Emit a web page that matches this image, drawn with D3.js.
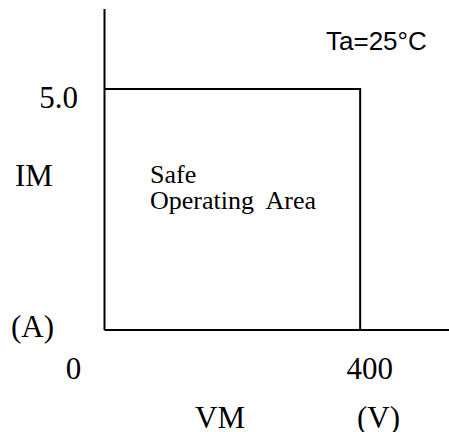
<!DOCTYPE html>
<html>
<head>
<meta charset="utf-8">
<script src="https://cdn.jsdelivr.net/npm/d3@7"></script>
<style>
    html, body { margin: 0; padding: 0; background: #fff; }
    svg { display: block; }
    .serif { font-family: "Liberation Serif", "Times New Roman", serif; fill: #000; }
    .sans { font-family: "Liberation Sans", Arial, sans-serif; fill: #000; }
</style>
</head>
<body>
<svg id="chart"></svg>
<script>
// safe operating area boundary (V, A)
const soaVoltage = [0, 400, 400];
const soaCurrent = [5.0, 5.0, 0];
const xTicks = [0, 400];
const xTickLabels = ['0', '400'];
const yTicks = [5.0];
const yTickLabels = ['5.0'];
const condition = 'Ta=25°C';
const areaLabel = ['Safe', 'Operating  Area'];

const width = 449;
const height = 432;
const margin = { top: 9, left: 104.5, bottom: 102, right: 0 };

const xScale = d3.scaleLinear()
    .domain([0, 539])
    .range([margin.left, width - margin.right]);

const yScale = d3.scaleLinear()
    .domain([0, 6.66])
    .range([height - margin.bottom, margin.top]);

const svg = d3.select('#chart')
    .attr('width', width)
    .attr('height', height);

// axes: plain lines, no tick marks
svg.append('line')
    .attr('x1', xScale(0)).attr('x2', xScale(0))
    .attr('y1', yScale(0)).attr('y2', yScale.range()[1])
    .attr('stroke', '#000').attr('stroke-width', 2);

svg.append('line')
    .attr('x1', xScale(0)).attr('x2', xScale.range()[1])
    .attr('y1', yScale(0)).attr('y2', yScale(0))
    .attr('stroke', '#000').attr('stroke-width', 2);

const line = d3.line()
    .x(d => xScale(d[0]))
    .y(d => yScale(d[1]));

svg.append('path')
    .datum(soaVoltage.map((v, i) => [v, soaCurrent[i]]))
    .attr('d', line)
    .attr('fill', 'none')
    .attr('stroke', '#000')
    .attr('stroke-width', 2);

// tick labels
svg.selectAll('.x-tick')
    .data(xTicks)
    .join('text')
        .attr('class', 'x-tick serif')
        .attr('x', d => xScale(d) + (d === 0 ? -31 : 9.5))
        .attr('y', 379)
        .attr('text-anchor', 'middle')
        .style('font-size', '31px')
        .text((d, i) => xTickLabels[i]);

svg.selectAll('.y-tick')
    .data(yTicks)
    .join('text')
        .attr('class', 'y-tick serif')
        .attr('x', 78)
        .attr('y', d => yScale(d) + 19)
        .attr('text-anchor', 'end')
        .style('font-size', '31px')
        .text((d, i) => yTickLabels[i]);

// axis titles
const titles = [
    { t: 'IM', x: 15, y: 186 },
    { t: '(A)', x: 11, y: 337 },
    { t: 'VM', x: 195, y: 428 },
    { t: '(V)', x: 357, y: 428 }
];
svg.selectAll('.title')
    .data(titles)
    .join('text')
        .attr('class', 'title serif')
        .attr('x', d => d.x)
        .attr('y', d => d.y)
        .style('font-size', '31px')
        .text(d => d.t);

svg.append('text')
    .attr('class', 'sans')
    .attr('x', 326)
    .attr('y', 50)
    .style('font-size', '26px')
    .text(condition);

svg.selectAll('.area-label')
    .data(areaLabel)
    .join('text')
        .attr('class', 'area-label serif')
        .attr('x', 150)
        .attr('y', (d, i) => 183 + i * 26)
        .style('font-size', '26px')
        .style('white-space', 'pre')
        .text(d => d);
</script>
</body>
</html>
